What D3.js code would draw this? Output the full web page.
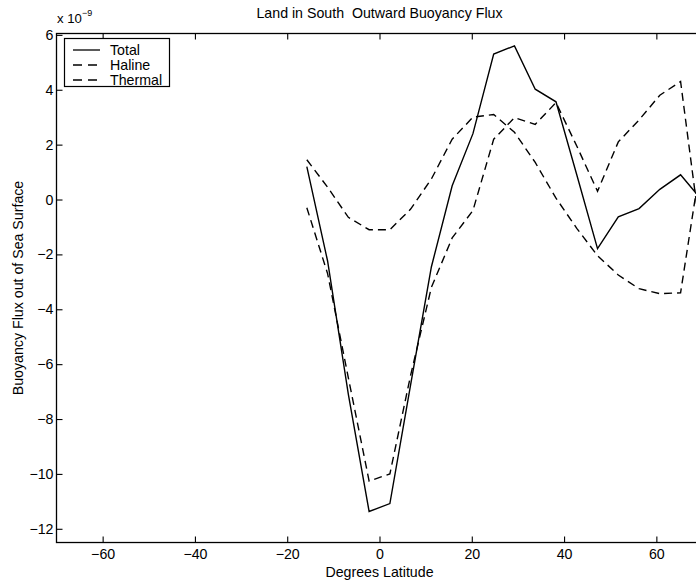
<!DOCTYPE html>
<html><head><meta charset="utf-8">
<script src="https://cdn.jsdelivr.net/npm/d3@7"></script>
<style>body{margin:0;background:#fff}svg{display:block}text{font-family:"Liberation Sans",Arial,sans-serif;fill:#000}</style>
</head><body><svg id="c" width="696" height="584"></svg>
<script>
const latitudes = [-15.75,-11.25,-6.75,-2.25,2.25,6.75,11.25,15.75,20.25,24.75,29.25,33.75,38.25,42.75,47.25,51.75,56.25,60.75,65.25,69.75];
const total   = [1.2,-2.24,-7.1,-11.37,-11.08,-6.75,-2.45,0.5,2.4,5.3,5.6,4.02,3.56,0.9,-1.79,-0.63,-0.33,0.37,0.9,0.0];
const haline  = [-0.3,-2.7,-6.5,-10.26,-10.0,-6.4,-3.2,-1.4,-0.4,2.2,2.98,2.74,3.53,1.95,0.3,2.1,2.9,3.8,4.3,-1.5];
const thermal = [1.45,0.45,-0.65,-1.1,-1.1,-0.35,0.75,2.2,3.0,3.1,2.45,1.35,0.05,-1.05,-2.05,-2.75,-3.25,-3.43,-3.4,1.5];
const xTicks = [-60,-40,-20,0,20,40,60];
const yTicks = [-12,-10,-8,-6,-4,-2,0,2,4,6];
const seriesNames = ["Total","Haline","Thermal"];
const seriesDash = [null,"8,5","8,5"];

const FS = 14.2;
const svg = d3.select("#c");
const L = 56.5, R = 702.5, T = 33.5;
const x = d3.scaleLinear().domain([-70,70]).range([L,R]);
const y = d3.scaleLinear().domain([6.05,-12.5]).range([T,T+27.44*18.55]);
const B = y(-12.5);

const g = svg.append("g");
svg.append("clipPath").attr("id","clip").append("rect").attr("x",L).attr("y",T).attr("width",R-L).attr("height",B-T);

const tl = 6;
const fmt = d=>d<0?"\u2212"+(-d):String(d);
function styleAxis(sel){sel.select(".domain").remove();sel.selectAll("line").attr("stroke","#000").attr("stroke-width",1.1);sel.selectAll("text").attr("font-size",FS).style("font-family","'Liberation Sans',Arial,sans-serif");}
g.append("g").attr("transform",`translate(0,${B})`).call(d3.axisBottom(x).tickValues(xTicks).tickSize(-tl).tickPadding(6).tickFormat(fmt)).call(styleAxis);
g.append("g").attr("transform",`translate(0,${T})`).call(d3.axisTop(x).tickValues(xTicks).tickSize(-tl).tickFormat("")).call(styleAxis);
g.append("g").attr("transform",`translate(${L},0)`).call(d3.axisLeft(y).tickValues(yTicks).tickSize(-tl).tickPadding(3).tickFormat(fmt)).call(styleAxis);
g.append("g").attr("transform",`translate(${R},0)`).call(d3.axisRight(y).tickValues(yTicks).tickSize(-tl).tickFormat("")).call(styleAxis);
g.append("rect").attr("x",L).attr("y",T).attr("width",R-L).attr("height",B-T).attr("fill","none").attr("stroke","#000").attr("stroke-width",1.3);

const line = d3.line().x(d=>x(d[0])).y(d=>y(d[1]));
[total,haline,thermal].forEach((vals,i)=>{
  g.append("path").attr("clip-path","url(#clip)")
   .attr("d",line(latitudes.map((la,j)=>[la,vals[j]])))
   .attr("fill","none").attr("stroke","#000").attr("stroke-width",1.4)
   .attr("stroke-dasharray",seriesDash[i]);
});

const lg = g.append("g");
lg.append("rect").attr("x",64.5).attr("y",38.5).attr("width",105).attr("height",48).attr("fill","#fff").attr("stroke","#000").attr("stroke-width",1.2);
seriesNames.forEach((n,i)=>{
  const yy = 50 + i*15;
  lg.append("line").attr("x1",73).attr("x2",100).attr("y1",yy).attr("y2",yy).attr("stroke","#000").attr("stroke-width",1.3).attr("stroke-dasharray",seriesDash[i]?"9,6":null);
  lg.append("text").attr("x",110).attr("y",yy+5).attr("font-size",FS).text(n);
});

svg.append("text").attr("x",(L+R)/2).attr("y",18).attr("text-anchor","middle").attr("font-size",FS).style("white-space","pre").attr("xml:space","preserve").text("Land in South  Outward Buoyancy Flux");
const ex = svg.append("text").attr("x",57).attr("y",23).attr("font-size",FS-1);
ex.append("tspan").text("x 10");
ex.append("tspan").attr("dy",-7).attr("font-size",9).text("\u22129");
svg.append("text").attr("x",(L+R)/2).attr("y",B+34).attr("text-anchor","middle").attr("font-size",FS).text("Degrees Latitude");
svg.append("text").attr("transform",`translate(23,${(T+B)/2}) rotate(-90)`).attr("text-anchor","middle").attr("font-size",FS).text("Buoyancy Flux out of Sea Surface");
</script></body></html>
